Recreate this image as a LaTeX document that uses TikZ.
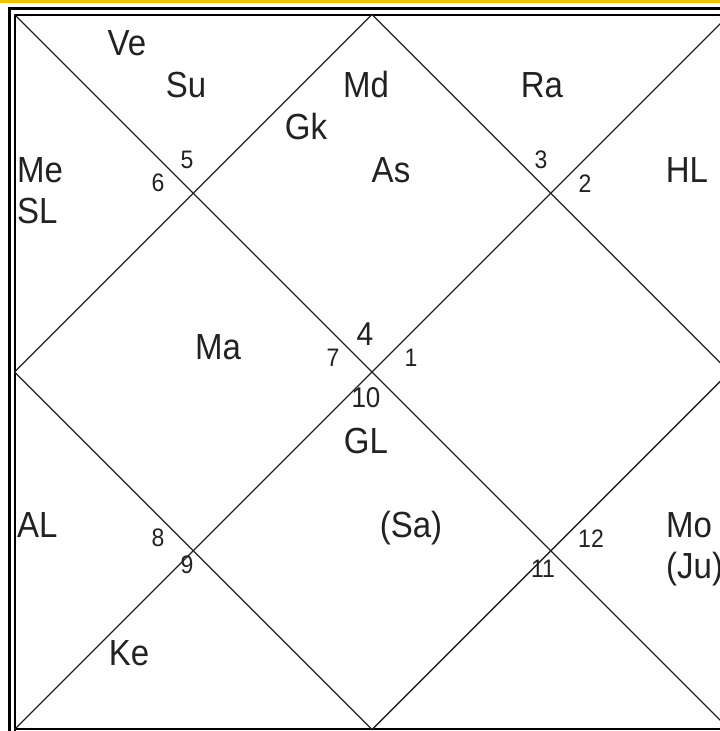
\documentclass[tikz,border=0pt]{standalone}
\usepackage{fontspec}
\usepackage{graphicx}
\setmainfont{Liberation Sans}
\definecolor{ink}{HTML}{222222}
\definecolor{topbar}{HTML}{F7BE12}
\newcommand{\lbl}[1]{\scalebox{1}[1.1]{\fontsize{33}{36}\selectfont #1}}
\newcommand{\hnum}[1]{\scalebox{1}[1.1]{\fontsize{23}{26}\selectfont #1}}
\begin{document}
\begin{tikzpicture}[x=1pt,y=1pt,
  planet/.style={inner sep=0pt,text=ink,anchor=base},
  planetw/.style={inner sep=0pt,text=ink,anchor=base west},
  housenum/.style={inner sep=0pt,text=ink,anchor=base},
  chartline/.style={draw=ink,line width=1.4pt}]
\useasboundingbox (0,0) rectangle (720,-731);
\fill[white] (0,0) rectangle (720,-731);
% top bar
\fill[topbar] (0,0) rectangle (720,-3);
% frame
\draw[black,line width=3pt] (9.5,-731) -- (9.5,-8.5) -- (725,-8.5);
\draw[black,line width=2pt] (14.5,-731) -- (14.5,-14.5) -- (725,-14.5);
\draw[black,line width=2.5pt] (14.5,-729) -- (725,-729);
% chart geometry
\coordinate (TL) at (14.5,-14.5);
\coordinate (TR) at (729.5,-14.5);
\coordinate (BL) at (14.5,-729.5);
\coordinate (BR) at (729.5,-729.5);
\coordinate (T) at (372,-14.5);
\coordinate (L) at (14.5,-372);
\coordinate (B) at (372,-729.5);
\coordinate (R) at (729.5,-372);
\draw[chartline] (TL) -- (BR);
\draw[chartline] (TR) -- (BL);
\draw[chartline] (T) -- (L) -- (B) -- (R) -- cycle;
% planets and labels
\node[planet] (ve) at (127,-55) {\lbl{Ve}};
\node[planet] (su) at (186,-97) {\lbl{Su}};
\node[planet] (md) at (366,-97) {\lbl{Md}};
\node[planet] (ra) at (542,-97) {\lbl{Ra}};
\node[planet] (gk) at (306,-139) {\lbl{Gk}};
\node[planet] (as) at (391,-182) {\lbl{As}};
\node[planet] (hl) at (687,-182) {\lbl{HL}};
\node[planetw] (me) at (17,-182) {\lbl{Me}};
\node[planetw] (sl) at (17,-223) {\lbl{SL}};
\node[planet] (ma) at (218,-359) {\lbl{Ma}};
\node[planet] (gl) at (366,-453) {\lbl{GL}};
\node[planetw] (al) at (17,-537) {\lbl{AL}};
\node[planet] (sa) at (411,-537) {\lbl{(Sa)}};
\node[planetw] (mo) at (666,-537) {\lbl{Mo}};
\node[planetw] (ju) at (666,-578) {\lbl{(Ju)}};
\node[planet] (ke) at (129,-665) {\lbl{Ke}};
% house numbers
\node[housenum] (h5) at (187,-168) {\hnum{5}};
\node[housenum] (h6) at (158,-191) {\hnum{6}};
\node[housenum] (h3) at (541,-168) {\hnum{3}};
\node[housenum] (h2) at (585,-192) {\hnum{2}};
\node[housenum] (h4) at (365,-345) {\scalebox{1}[1.1]{\fontsize{30}{32}\selectfont 4}};
\node[housenum] (h7) at (333,-366) {\hnum{7}};
\node[housenum] (h1) at (411,-366) {\hnum{1}};
\node[housenum] (h10) at (366,-407) {\scalebox{1}[1.1]{\fontsize{26}{28}\selectfont 10}};
\node[housenum] (h8) at (158,-546) {\hnum{8}};
\node[housenum] (h9) at (187,-573) {\hnum{9}};
\node[housenum] (h12) at (591,-547) {\hnum{12}};
\node[housenum] (h11) at (543,-577) {\hnum{11}};
\end{tikzpicture}
\end{document}
